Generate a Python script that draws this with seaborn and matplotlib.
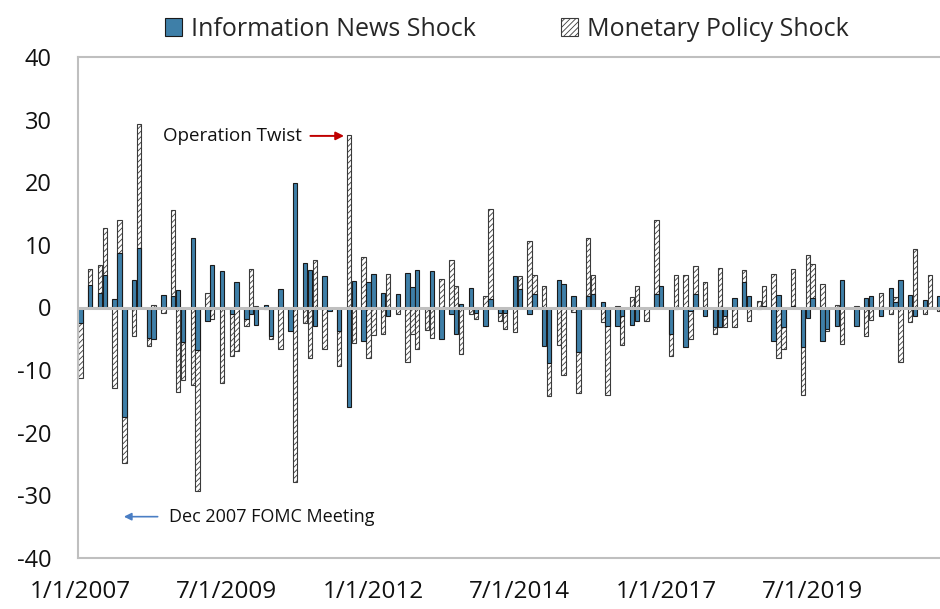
import pandas as pd
import matplotlib.pyplot as plt
import seaborn as sns
from matplotlib.patches import Patch

# ---------- data: shocks at FOMC meetings (bucketed by month) ----------
months = [
    "2007-01", "2007-03", "2007-05", "2007-06", "2007-08", "2007-09", "2007-10", "2007-12",
    "2008-01", "2008-03", "2008-04", "2008-06", "2008-08", "2008-09", "2008-10", "2008-12",
    "2009-01", "2009-03", "2009-04", "2009-06", "2009-08", "2009-09", "2009-11", "2009-12",
    "2010-01", "2010-03", "2010-04", "2010-06", "2010-08", "2010-09", "2010-11", "2010-12",
    "2011-01", "2011-03", "2011-04", "2011-06", "2011-08", "2011-09", "2011-11", "2011-12",
    "2012-01", "2012-03", "2012-04", "2012-06", "2012-08", "2012-09", "2012-10", "2012-12",
    "2013-01", "2013-03", "2013-05", "2013-06", "2013-07", "2013-09", "2013-10", "2013-12",
    "2014-01", "2014-03", "2014-04", "2014-06", "2014-07", "2014-09", "2014-10", "2014-12",
    "2015-01", "2015-03", "2015-04", "2015-06", "2015-07", "2015-09", "2015-10", "2015-12",
    "2016-01", "2016-03", "2016-04", "2016-06", "2016-07", "2016-09", "2016-11", "2016-12",
    "2017-02", "2017-03", "2017-05", "2017-06", "2017-07", "2017-09", "2017-11", "2017-12",
    "2018-01", "2018-03", "2018-05", "2018-06", "2018-08", "2018-09", "2018-11", "2018-12",
    "2019-01", "2019-03", "2019-05", "2019-06", "2019-07", "2019-09", "2019-10", "2019-12",
    "2020-01", "2020-04", "2020-06", "2020-07", "2020-09", "2020-11", "2020-12",
    "2021-01", "2021-03", "2021-04", "2021-06", "2021-07", "2021-09",
]
info_shock = [
    -2.5, 3.6, 2.3, 5.2, 1.4, 8.7, -17.5, 4.4,
    9.5, -4.9, -5.0, 2.0, 1.9, 2.8, -5.5, 11.1,
    -6.8, -2.1, 6.8, 5.9, -1.0, 4.1, -1.8, -1.0,
    -2.8, 0.4, -4.6, 3.0, -3.7, 19.9, 7.1, 6.0,
    -3.0, 5.1, -0.6, -3.7, -15.9, 4.2, -5.3, 4.0,
    5.3, 2.3, -1.4, 2.1, 5.5, 3.3, 6.0, -0.3,
    5.8, -5.0, -1.0, -4.2, 0.5, 3.1, -0.9, -2.9,
    1.4, -0.8, -0.9, 5.0, 2.9, -1.1, 2.1, -6.1,
    -8.9, 4.4, 3.8, 1.8, -7.1, 1.8, 2.1, 0.9,
    -2.9, -2.9, -1.3, -2.8, -2.1, -0.2, 2.1, 3.4,
    -4.3, -0.3, -6.3, -0.6, 2.1, -1.4, -3.1, -3.1,
    -1.4, 1.5, 4.0, 1.8, -0.3, 0.2, -5.4, 2.0,
    -3.1, 0.2, -6.3, -1.6, 1.5, -5.3, -3.4, -2.9,
    4.4, -2.9, 1.5, 1.8, -1.3, 3.1, 0.9,
    4.4, 2.0, -1.3, 1.2, 0.1, 1.8,
]
mp_shock = [
    -11.2, 6.1, 6.8, 12.7, -12.9, 13.9, -24.9, -4.5,
    29.3, -6.1, 0.4, -0.9, 15.5, -13.5, -11.5, -12.4,
    -29.3, 2.3, -1.9, -12.0, -7.7, -6.9, -3.0, 6.1,
    0.3, -0.2, -5.0, -6.7, -1.5, -27.8, -2.5, -8.1,
    7.6, -6.7, -0.3, -9.4, 27.5, -5.7, 8.0, -8.1,
    -4.4, -4.3, 5.3, -1.0, -8.7, -4.3, -6.7, -3.6,
    -4.9, 4.5, 7.6, 3.5, -7.4, -1.0, -1.9, 1.8,
    15.7, -2.1, -3.4, -3.9, 5.0, 10.6, 5.2, 3.5,
    -14.2, -6.0, -10.8, -0.7, -13.7, 11.1, 5.2, -2.3,
    -13.9, 0.3, -6.0, 1.7, 3.5, -2.2, 13.9, 0.3,
    -7.7, 5.2, 5.2, -5.0, 6.7, 4.1, -4.2, 6.3,
    -3.1, -3.1, 6.0, -2.2, 1.0, 3.4, 5.3, -8.1,
    -6.7, 6.1, -13.9, 8.4, 6.9, 3.7, -3.8, 0.4,
    -5.9, 0.2, -4.5, -2.0, 2.3, -1.1, 1.6,
    -8.7, -2.3, 9.3, -1.1, 5.2, -0.5,
]
tick_labels = ["1/1/2007", "7/1/2009", "1/1/2012", "7/1/2014", "1/1/2017", "7/1/2019"]

df = pd.DataFrame({"month": months, "info": info_shock, "mp": mp_shock})
all_months = [str(p) for p in pd.period_range("2007-01", "2021-12", freq="M")]

# ---------- style ----------
sns.set_style("white")
plt.rcParams["font.family"] = ["Open Sans", "DejaVu Sans"]
plt.rcParams["hatch.linewidth"] = 0.6
plt.rcParams["axes.unicode_minus"] = False

fig = plt.figure(figsize=(9.4, 6.09), dpi=100)
ax = fig.add_axes([78 / 940, 51 / 609, 1 - 78 / 940, 501 / 609])

blue = "#3E7FA8"

# monetary policy shock (hatched) behind, information shock on top
sns.barplot(data=df, x="month", y="mp", order=all_months, color="white",
            width=0.9, errorbar=None, edgecolor="#3a3a3a", linewidth=0.8, ax=ax)
for p in ax.patches:
    p.set_hatch("//////")
n_mp = len(ax.patches)
sns.barplot(data=df, x="month", y="info", order=all_months, color=blue, saturation=1,
            width=0.9, errorbar=None, edgecolor="#1a1a1a", linewidth=0.8, ax=ax)
for p in ax.patches[n_mp:]:
    p.set_zorder(2.5)

ax.axhline(0, color="#BFBFBF", lw=2.2, zorder=4)

ax.set_xlim(-0.5, 176.1)
ax.set_ylim(-40, 40)
ax.set_yticks(range(-40, 41, 10))
ax.set_xticks([all_months.index(m) for m in ["2007-01", "2009-07", "2012-01", "2014-07", "2017-01", "2019-07"]])
ax.set_xticklabels(tick_labels)
ax.set_xlabel("")
ax.set_ylabel("")
ax.tick_params(axis="y", direction="in", length=8, width=1.2, color="#BFBFBF",
               labelsize=17, pad=19, labelcolor="#111111")
ax.tick_params(axis="x", length=0, labelsize=17.5, pad=16, labelcolor="#111111")

for side in ["left", "top", "bottom"]:
    ax.spines[side].set_color("#BFBFBF")
    ax.spines[side].set_linewidth(1.5)
ax.spines["right"].set_visible(False)

# annotations
ax.annotate("Operation Twist", xy=(54.0, 27.4), xytext=(45.3, 27.4),
            ha="right", va="center", fontsize=13.5, color="#111111",
            arrowprops=dict(arrowstyle="-|>", color="#C00000", lw=1.4,
                            shrinkA=4, shrinkB=0, mutation_scale=12))
ax.annotate("Dec 2007 FOMC Meeting", xy=(8.9, -33.4), xytext=(18.2, -33.4),
            ha="left", va="center", fontsize=13, color="#111111",
            arrowprops=dict(arrowstyle="-|>", color="#4A7EC4", lw=1.2,
                            shrinkA=6, shrinkB=0, mutation_scale=11))

# legend
handles = [Patch(facecolor=blue, edgecolor="#1a1a1a", linewidth=0.8),
           Patch(facecolor="white", edgecolor="#3a3a3a", hatch="//////", linewidth=0.8)]
fig.legend(handles, ["Information News Shock", "Monetary Policy Shock"],
           loc="center", bbox_to_anchor=(0.539, 0.952), ncol=2, frameon=False,
           fontsize=18, handlelength=0.7, handleheight=0.7, handletextpad=0.35,
           columnspacing=3.4)

plt.savefig("out.png", dpi=100)
plt.close()
